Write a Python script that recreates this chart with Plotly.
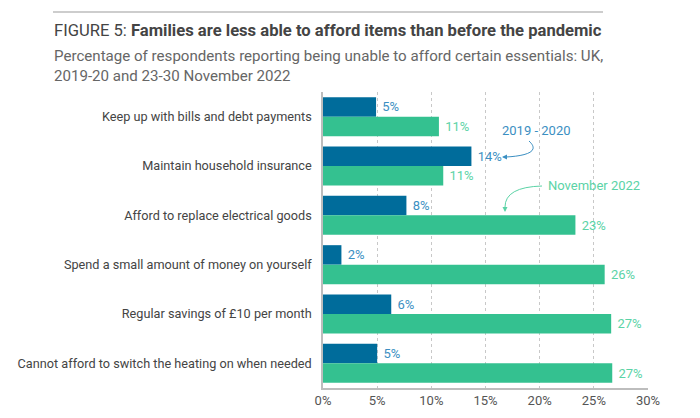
import plotly.graph_objects as go

categories = [
    "Keep up with bills and debt payments",
    "Maintain household insurance",
    "Afford to replace electrical goods",
    "Spend a small amount of money on yourself",
    "Regular savings of £10 per month",
    "Cannot afford to switch the heating on when needed",
]
values_2019 = [4.9, 13.7, 7.7, 1.7, 6.3, 5.0]
values_2022 = [10.7, 11.1, 23.3, 26.0, 26.6, 26.7]
labels_2019 = ["5%", "14%", "8%", "2%", "6%", "5%"]
labels_2022 = ["11%", "11%", "23%", "26%", "27%", "27%"]
tick_vals = [0, 5, 10, 15, 20, 25, 30]
tick_text = ["0%", "5%", "10%", "15%", "20%", "25%", "30%"]

OFF = 8  # page body margin
W, H = 700 - OFF, 418 - OFF
L, R, T, B = 323 - OFF, 52, 92 - OFF, 30
PW, PH = W - L - R, H - T - B

def px(x):
    return (x - OFF - L) / PW

def py(y):
    return (H - B - (y - OFF)) / PH

BLUE = "#006c9b"
GREEN = "#34c190"
BLUE_TXT = "#3b8fc2"
GREEN_TXT = "#5bd3a6"

fig = go.Figure()
fig.add_trace(go.Bar(
    y=categories, x=values_2019, orientation="h", name="2019 - 2020",
    marker=dict(color=BLUE, line=dict(width=0)),
    text=labels_2019, texttemplate=" %{text}", textposition="outside", cliponaxis=False,
    textfont=dict(color=BLUE_TXT, size=13, family="Roboto"),
))
fig.add_trace(go.Bar(
    y=categories, x=values_2022, orientation="h", name="November 2022",
    marker=dict(color=GREEN, line=dict(width=0)),
    text=labels_2022, texttemplate=" %{text}", textposition="outside", cliponaxis=False,
    textfont=dict(color=GREEN_TXT, size=13, family="Roboto"),
))

fig.update_layout(
    width=W, height=H,
    margin=dict(l=L, r=R, t=T, b=B, autoexpand=False),
    paper_bgcolor="white", plot_bgcolor="white",
    barmode="group", bargap=0.21, bargroupgap=0,
    showlegend=False,
    font=dict(family="Roboto", color="#444"),
    xaxis=dict(
        range=[0, 30], tickvals=tick_vals, ticktext=tick_text,
        showgrid=True, gridcolor="#c8c8c8", griddash="dot", gridwidth=1,
        zeroline=False, showline=True, linecolor="#bdbdbd", linewidth=1.5,
        ticks="", tickfont=dict(family="Roboto", size=13, color="#555"),
        fixedrange=True,
    ),
    yaxis=dict(
        autorange="reversed", showline=True, linecolor="#bdbdbd", linewidth=1.5,
        ticks="", ticklabelstandoff=7,
        tickfont=dict(family="Roboto", size=12.7, color="#444"),
        showgrid=False,
    ),
)

# Title / subtitle
fig.add_shape(type="line", xref="paper", yref="paper",
              x0=px(53), x1=px(603), y0=py(12), y1=py(12),
              line=dict(color="#bcbcbc", width=1.5))
fig.add_annotation(xref="paper", yref="paper", x=px(52), y=py(31),
                   xanchor="left", yanchor="middle", showarrow=False,
                   text="FIGURE 5: <b>Families are less able to afford items than before the pandemic</b>",
                   font=dict(family="Roboto", size=16.6, color="#444"))
fig.add_annotation(xref="paper", yref="paper", x=px(52), y=py(66),
                   xanchor="left", yanchor="middle", showarrow=False, align="left",
                   text="Percentage of respondents reporting being unable to afford certain essentials: UK,<br>2019-20 and 23-30 November 2022",
                   font=dict(family="Roboto", size=15.1, color="#666"))

# Series callouts
fig.add_annotation(xref="paper", yref="paper", x=px(536), y=py(130),
                   xanchor="center", yanchor="middle", showarrow=False,
                   text="2019 - 2020", font=dict(family="Roboto", size=13, color=BLUE_TXT))
fig.add_shape(type="path", xref="paper", yref="paper",
              path=f"M {px(529)},{py(141)} C {px(541)},{py(152)} {px(525)},{py(156)} {px(506)},{py(157)}",
              line=dict(color=BLUE_TXT, width=1))
fig.add_annotation(xref="paper", yref="paper", x=px(502), y=py(157),
                   ax=6, ay=0, axref="pixel", ayref="pixel", text="",
                   showarrow=True, arrowhead=2, arrowsize=1, arrowwidth=1, arrowcolor=BLUE_TXT)

fig.add_annotation(xref="paper", yref="paper", x=px(594), y=py(185),
                   xanchor="center", yanchor="middle", showarrow=False,
                   text="November 2022", font=dict(family="Roboto", size=13, color=GREEN_TXT))
fig.add_shape(type="path", xref="paper", yref="paper",
              path=f"M {px(542)},{py(186)} Q {px(505)},{py(187)} {px(505)},{py(207)}",
              line=dict(color=GREEN_TXT, width=1))
fig.add_annotation(xref="paper", yref="paper", x=px(505), y=py(212),
                   ax=0, ay=-6, axref="pixel", ayref="pixel", text="",
                   showarrow=True, arrowhead=2, arrowsize=1, arrowwidth=1, arrowcolor=GREEN_TXT)

fig.write_html("out.html")
